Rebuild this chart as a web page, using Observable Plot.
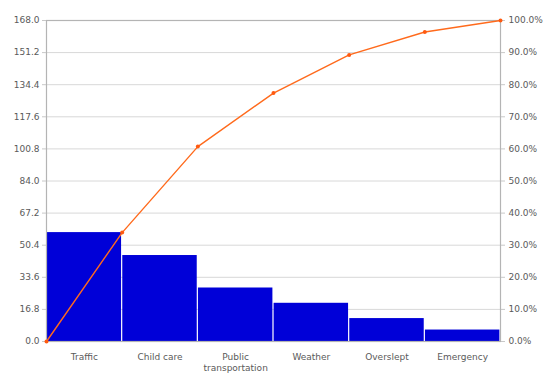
<!DOCTYPE html>
<html><head><meta charset="utf-8">
<script src="https://cdn.jsdelivr.net/npm/d3@7"></script>
<script src="https://cdn.jsdelivr.net/npm/@observablehq/plot@0.6"></script>
<style>body{margin:0;background:#fff;} #chart svg{display:block;}</style>
</head><body><div id="chart"></div>
<script>
const categories = ["Traffic", "Child care", "Public transportation", "Weather", "Overslept", "Emergency"];
const counts = [57, 45, 28, 20, 12, 6];
const leftTicks = [0, 16.8, 33.6, 50.4, 67.2, 84.0, 100.8, 117.6, 134.4, 151.2, 168.0];
const leftTickLabels = ["0.0", "16.8", "33.6", "50.4", "67.2", "84.0", "100.8", "117.6", "134.4", "151.2", "168.0"];
const rightTickLabels = ["0.0%", "10.0%", "20.0%", "30.0%", "40.0%", "50.0%", "60.0%", "70.0%", "80.0%", "90.0%", "100.0%"];

const total = d3.sum(counts);
const bars = categories.map((c, i) => ({cat: c, i, count: counts[i]}));
const cum = [0, ...d3.cumsum(counts)];
const linePts = cum.map((v, i) => ({x: i, y: v}));

const font = "DejaVu Sans, Verdana, sans-serif";
const chart = Plot.plot({
  width: 545,
  height: 373,
  marginLeft: 46,
  marginRight: 45,
  marginTop: 20,
  marginBottom: 32,
  style: {fontFamily: font, fontSize: "9px", color: "#5a5a5a", background: "#fff"},
  x: {type: "linear", domain: [0, categories.length], axis: null},
  y: {domain: [0, total], axis: null},
  marks: [
    Plot.gridY(leftTicks, {stroke: "#d8d8d8", strokeOpacity: 1}),
    Plot.rectY(bars, {x1: "i", x2: d => d.i + 1, y: "count", fill: "#0000d8", insetLeft: 0.6, insetRight: 0.6}),
    Plot.frame({stroke: "#b4b4b4", strokeWidth: 1.2}),
    Plot.axisY(leftTicks, {anchor: "left", tickSize: 4, tickPadding: 3, stroke: "#c8c8c8", fill: "#5a5a5a", fontSize: 9, tickFormat: (d, i) => leftTickLabels[i], label: null}),
    Plot.axisY(leftTicks, {anchor: "right", tickSize: 4, tickPadding: 4, stroke: "#c8c8c8", fill: "#5a5a5a", fontSize: 9, tickFormat: (d, i) => rightTickLabels[i], label: null}),
    Plot.text(bars, {x: d => d.i + 0.5, y: 0, text: "cat", dy: 10, lineAnchor: "top", lineWidth: 9, lineHeight: 1.25, fill: "#5a5a5a", fontSize: 9}),
    Plot.line(linePts, {x: "x", y: "y", stroke: "#ff6a1c", strokeWidth: 1.4}),
    Plot.dot(linePts, {x: "x", y: "y", r: 2, fill: "#ff5a10", stroke: null})
  ]
});
document.getElementById("chart").append(chart);
</script>
</body></html>
